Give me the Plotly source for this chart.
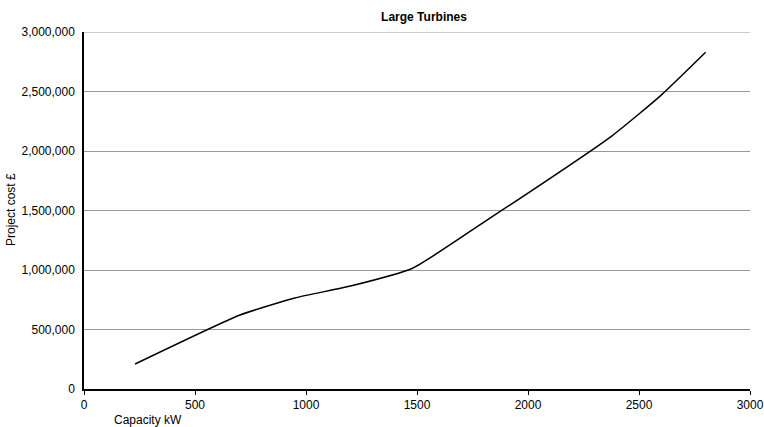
import plotly.graph_objects as go

capacity_kw = [230, 700, 950, 1200, 1480, 1800, 2380, 2600, 2800]
project_cost = [210000, 620000, 765000, 865000, 1015000, 1400000, 2130000, 2470000, 2830000]

x_ticks = [0, 500, 1000, 1500, 2000, 2500, 3000]
y_ticks = [0, 500000, 1000000, 1500000, 2000000, 2500000, 3000000]
y_tick_labels = ["0", "500,000", "1,000,000", "1,500,000", "2,000,000", "2,500,000", "3,000,000"]

fig = go.Figure()
fig.add_trace(go.Scatter(
    x=capacity_kw, y=project_cost, mode="lines",
    line=dict(color="black", width=1.5, shape="spline", smoothing=0.5),
    showlegend=False, hoverinfo="skip", cliponaxis=False))

font = dict(family="Liberation Sans, Arial, sans-serif", size=12, color="black")

L, R, T, B = 84, 14, 32, 38
W, H = 764, 427
pw, ph = W - L - R, H - T - B

fig.update_layout(
    width=W, height=H,
    margin=dict(l=L, r=R, t=T, b=B, autoexpand=False),
    paper_bgcolor="white", plot_bgcolor="white",
    font=font,
    title=dict(text="<b>Large Turbines</b>", x=424 / W, xanchor="center",
               y=1 - 17 / H, yanchor="middle",
               font=dict(family="Liberation Sans, Arial, sans-serif", size=12, color="black")),
    xaxis=dict(range=[0, 3000], tickvals=x_ticks, showgrid=False, zeroline=False,
               showline=True, linecolor="black", linewidth=1.5, automargin=False,
               ticks="outside", ticklen=4, tickcolor="black", tickfont=font,
               ticklabelstandoff=0),
    yaxis=dict(range=[0, 3000000], tickvals=y_ticks, ticktext=y_tick_labels,
               showgrid=True, gridcolor="#999999", gridwidth=1, zeroline=False,
               showline=True, linecolor="black", linewidth=1.5, ticks="",
               automargin=False, tickfont=font, ticklabelstandoff=5),
    shapes=[dict(type="line", xref="paper", yref="y", x0=0, x1=1, y0=3000000, y1=3000000,
                 line=dict(color="#999999", width=1), layer="below")],
    annotations=[
        dict(text="Capacity kW", xref="paper", yref="paper",
             x=(148 - L) / pw, y=-(420 - 389) / ph, xanchor="center", yanchor="middle",
             showarrow=False, font=font),
        dict(text="Project cost £", xref="paper", yref="paper", textangle=-90,
             x=-(L - 11) / pw, y=(389 - 210) / ph, xanchor="center", yanchor="middle",
             showarrow=False, font=font),
    ],
)

fig.write_html("out.html", config={"displayModeBar": False},
               post_script="document.body.style.margin='0';document.body.style.padding='0';")
